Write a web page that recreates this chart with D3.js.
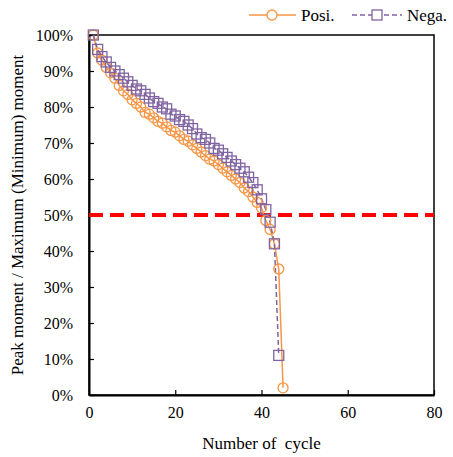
<!DOCTYPE html>
<html>
<head>
<meta charset="utf-8">
<script src="https://cdn.jsdelivr.net/npm/d3@7"></script>
<style>
body{margin:0;background:#fff;}
svg, svg text{font-family:'Liberation Serif', 'Times New Roman', Times, 'DejaVu Serif', serif !important;}
</style>
</head>
<body>
<div id="chart"></div>
<script>
// data
var cycles = d3.range(1, 46);
var posi = [100, 95, 93, 91, 89.5, 88, 86, 84.5, 83.5, 82,
            81, 80, 78.5, 78, 77, 76, 75.5, 74.5, 73.5, 73,
            72, 71, 70.5, 69.5, 68.5, 67.5, 66.5, 65.5, 65, 64,
            63, 62, 61, 60, 59, 57.5, 56.5, 55, 53.5, 52,
            48.5, 46, 42, 35, 2];
var nega = [100, 96, 94, 92.5, 91, 90, 89, 88, 87, 86,
            85, 84.5, 83.5, 82.5, 81.5, 81, 80, 79.5, 78, 77.5,
            76.5, 76, 75, 74, 72.5, 71.5, 71, 70, 68.5, 68,
            67, 66, 65, 64, 63, 62, 60.5, 59, 57, 54.5,
            51.5, 48, 42, 11];
var xTicks = [0, 20, 40, 60, 80];
var yTicks = d3.range(0, 101, 10);
var limitLine = 50;

var W = 453, H = 457;
var margin = {left: 89, right: 19, top: 35, bottom: 62};

var svg = d3.select("#chart").append("svg")
	.attr("width", W).attr("height", H);

var x = d3.scaleLinear().domain([0, 80]).range([margin.left, W - margin.right]);
var y = d3.scaleLinear().domain([0, 100]).range([H - margin.bottom, margin.top]);

var orange = "#f79646", purple = "#8064a2";

// frame
svg.append("rect")
	.attr("x", x(0)).attr("y", y(100))
	.attr("width", x(80) - x(0)).attr("height", y(0) - y(100))
	.attr("fill", "none").attr("stroke", "#000").attr("stroke-width", 1.5);

// axes, ticks pointing inward
var xAxis = svg.append("g")
	.attr("transform", "translate(0," + y(0) + ")")
	.call(d3.axisBottom(x).tickValues(xTicks).tickSizeInner(-5).tickSizeOuter(0).tickPadding(12));
var yAxis = svg.append("g")
	.attr("transform", "translate(" + x(0) + ",0)")
	.call(d3.axisLeft(y).tickValues(yTicks).tickSizeInner(-5).tickSizeOuter(0).tickPadding(16)
		.tickFormat(function(d){ return d + "%"; }));

[xAxis, yAxis].forEach(function(a){
	a.attr("font-family", null);
	a.select(".domain").attr("stroke", "#000").attr("stroke-width", 2);
	a.selectAll(".tick line").attr("stroke", "#000").attr("stroke-width", 1.2);
	a.selectAll(".tick text").attr("font-size", 16).attr("fill", "#000");
});

// 50% line
svg.append("line")
	.attr("x1", x(0)).attr("x2", x(80))
	.attr("y1", y(limitLine)).attr("y2", y(limitLine))
	.attr("stroke", "#ff0000").attr("stroke-width", 4)
	.attr("stroke-dasharray", "14,7");

var line = d3.line()
	.x(function(d){ return x(d[0]); })
	.y(function(d){ return y(d[1]); });

var posiPts = posi.map(function(v, i){ return [cycles[i], v]; });
var negaPts = nega.map(function(v, i){ return [cycles[i], v]; });

svg.append("path").datum(posiPts).attr("d", line)
	.attr("fill", "none").attr("stroke", orange).attr("stroke-width", 1.5);
svg.append("path").datum(negaPts).attr("d", line)
	.attr("fill", "none").attr("stroke", purple).attr("stroke-width", 1.5)
	.attr("stroke-dasharray", "5,3");

svg.append("g").selectAll("circle").data(posiPts).enter().append("circle")
	.attr("cx", function(d){ return x(d[0]); })
	.attr("cy", function(d){ return y(d[1]); })
	.attr("r", 5)
	.attr("fill", "none").attr("stroke", orange).attr("stroke-width", 1.3);

svg.append("g").selectAll("rect").data(negaPts).enter().append("rect")
	.attr("x", function(d){ return x(d[0]) - 5; })
	.attr("y", function(d){ return y(d[1]) - 5; })
	.attr("width", 10).attr("height", 10)
	.attr("fill", "none").attr("stroke", purple).attr("stroke-width", 1.3);

// axis titles
svg.append("text")
	.attr("x", x(40)).attr("y", 449)
	.attr("text-anchor", "middle").attr("font-size", 17)
	.style("white-space", "pre")
	.text("Number of  cycle");
svg.append("text")
	.attr("transform", "translate(23," + y(50) + ") rotate(-90)")
	.attr("text-anchor", "middle").attr("font-size", 17)
	.text("Peak moment / Maximum (Minimum) moment");

// legend
var lg = svg.append("g");
lg.append("line").attr("x1", 249).attr("x2", 296).attr("y1", 15).attr("y2", 15)
	.attr("stroke", orange).attr("stroke-width", 1.5);
lg.append("circle").attr("cx", 272).attr("cy", 15).attr("r", 5)
	.attr("fill", "#fff").attr("stroke", orange).attr("stroke-width", 1.3);
lg.append("text").attr("x", 301).attr("y", 21).attr("font-size", 17).text("Posi.");
lg.append("line").attr("x1", 352).attr("x2", 402).attr("y1", 15).attr("y2", 15)
	.attr("stroke", purple).attr("stroke-width", 1.5).attr("stroke-dasharray", "5,3");
lg.append("rect").attr("x", 372).attr("y", 10).attr("width", 10).attr("height", 10)
	.attr("fill", "#fff").attr("stroke", purple).attr("stroke-width", 1.3);
lg.append("text").attr("x", 407).attr("y", 21).attr("font-size", 17).text("Nega.");
</script>
</body>
</html>
